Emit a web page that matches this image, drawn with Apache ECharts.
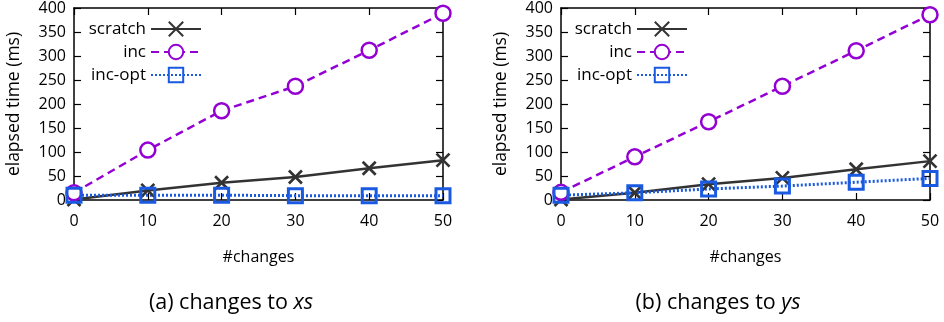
<!DOCTYPE html>
<html>
<head>
<meta charset="utf-8">
<script src="https://cdn.jsdelivr.net/npm/echarts@6/dist/echarts.min.js"></script>
<style>
html, body { margin: 0; padding: 0; background: #fff; }
#main { width: 944px; height: 322px; }
</style>
</head>
<body>
<div id="main"></div>
<script>
// number of changes (x axis)
let changes = [0, 10, 20, 30, 40, 50]
let yTicks = [0, 50, 100, 150, 200, 250, 300, 350, 400]

// (a) changes to xs
let xsScratch = [1, 20, 36, 48, 66, 83]
let xsInc = [15, 104, 186, 237, 312, 389]
let xsIncOpt = [10, 10, 10, 9, 9, 9]

// (b) changes to ys
let ysScratch = [1, 15, 33, 46, 64, 81]
let ysInc = [16, 90, 163, 237, 311, 386]
let ysIncOpt = [10, 15, 23, 29, 37, 45]

let font = "Open Sans"
let fontSize = 16

function pairs(ys) {
	return changes.map((x, i) => [x, ys[i]])
}

function mkSeries(idx, scratch, inc, incOpt) {
	let base = {
		type: "line",
		xAxisIndex: idx * 2,
		yAxisIndex: idx * 2,
		clip: false,
		animation: false,
		z: 3
	}
	return [
		Object.assign({}, base, {
			name: "scratch",
			data: pairs(scratch),
			symbol: "path://M0,0L10,10M10,0L0,10",
			symbolSize: 13,
			itemStyle: {color: "#333", borderColor: "#333", borderWidth: 2.7},
			lineStyle: {color: "#333", width: 2.5, type: "solid"}
		}),
		Object.assign({}, base, {
			name: "inc",
			data: pairs(inc),
			symbol: "circle",
			symbolSize: 15,
			itemStyle: {color: "#fff", borderColor: "#9400d3", borderWidth: 2.5},
			lineStyle: {color: "#9400d3", width: 2.5, type: [8, 5]}
		}),
		Object.assign({}, base, {
			name: "inc-opt",
			data: pairs(incOpt),
			symbol: "rect",
			symbolSize: 14,
			itemStyle: {color: "transparent", borderColor: "#1a5ae0", borderWidth: 3},
			lineStyle: {color: "#1a5ae0", width: 3, type: [2, 2]}
		})
	]
}

function mkAxes(left) {
	let common = {
		type: "value",
		animation: false,
		splitLine: {show: false},
		axisLine: {show: true, onZero: false, lineStyle: {color: "#000", width: 1.5}},
		axisTick: {show: true, inside: true, length: 7, lineStyle: {color: "#000", width: 1.2}}
	}
	let labelStyle = {color: "#000", fontFamily: font, fontSize: fontSize}
	let gi = left ? 0 : 1
	let xAxes = [
		Object.assign({}, common, {
			gridIndex: gi, position: "bottom", min: 0, max: 50, interval: 10,
			name: "#changes", nameLocation: "middle", nameGap: 49,
			nameTextStyle: labelStyle,
			axisLabel: Object.assign({margin: 13}, labelStyle)
		}),
		Object.assign({}, common, {
			gridIndex: gi, position: "top", min: 0, max: 50, interval: 10,
			axisLabel: {show: false}
		})
	]
	let yAxes = [
		Object.assign({}, common, {
			gridIndex: gi, position: "left", min: 0, max: 400, interval: 50,
			name: "elapsed time (ms)", nameLocation: "middle", nameGap: 51,
			nameTextStyle: Object.assign({}, labelStyle, {fontSize: 17.5}),
			axisLabel: Object.assign({margin: 8}, labelStyle, {
				formatter: v => yTicks.indexOf(v) >= 0 ? String(v) : ""
			})
		}),
		Object.assign({}, common, {
			gridIndex: gi, position: "right", min: 0, max: 400, interval: 50,
			axisLabel: {show: false}
		})
	]
	return {xAxes, yAxes}
}

function mkLegend(right) {
	let rows = ["scratch", "inc", "inc-opt"]
	return rows.map((name, i) => ({
		data: [name],
		right: right,
		top: 29 + i * 23 - 8.5,
		padding: 0,
		orient: "vertical",
		align: "right",
		itemWidth: 50,
		itemHeight: 18,
		itemGap: 0,
		selectedMode: false,
		textStyle: {color: "#000", fontFamily: font, fontSize: 17}
	}))
}

let a = mkAxes(true)
let b = mkAxes(false)

let chart = echarts.init(document.getElementById("main"))
let captionStyle = {
	color: "#000", fontFamily: font, fontSize: 21.5, fontWeight: "normal",
	rich: {i: {fontFamily: font, fontSize: 21.5, fontStyle: "italic", color: "#000"}}
}
let option = {
	animation: false,
	title: [
		{text: "(a) changes to {i|xs}", left: 231, top: 292, padding: 0, textAlign: "center", textStyle: captionStyle},
		{text: "(b) changes to {i|ys}", left: 718, top: 292, padding: 0, textAlign: "center", textStyle: captionStyle}
	],
	legend: mkLegend(742).concat(mkLegend(256)),
	grid: [
		{left: 74, top: 8, width: 369, height: 192},
		{left: 561, top: 8, width: 369, height: 192}
	],
	xAxis: [a.xAxes[0], a.xAxes[1], b.xAxes[0], b.xAxes[1]],
	yAxis: [a.yAxes[0], a.yAxes[1], b.yAxes[0], b.yAxes[1]],
	series: mkSeries(0, xsScratch, xsInc, xsIncOpt).concat(mkSeries(1, ysScratch, ysInc, ysIncOpt))
}
chart.setOption(option)
window.onresize = chart.resize
</script>
</body>
</html>
